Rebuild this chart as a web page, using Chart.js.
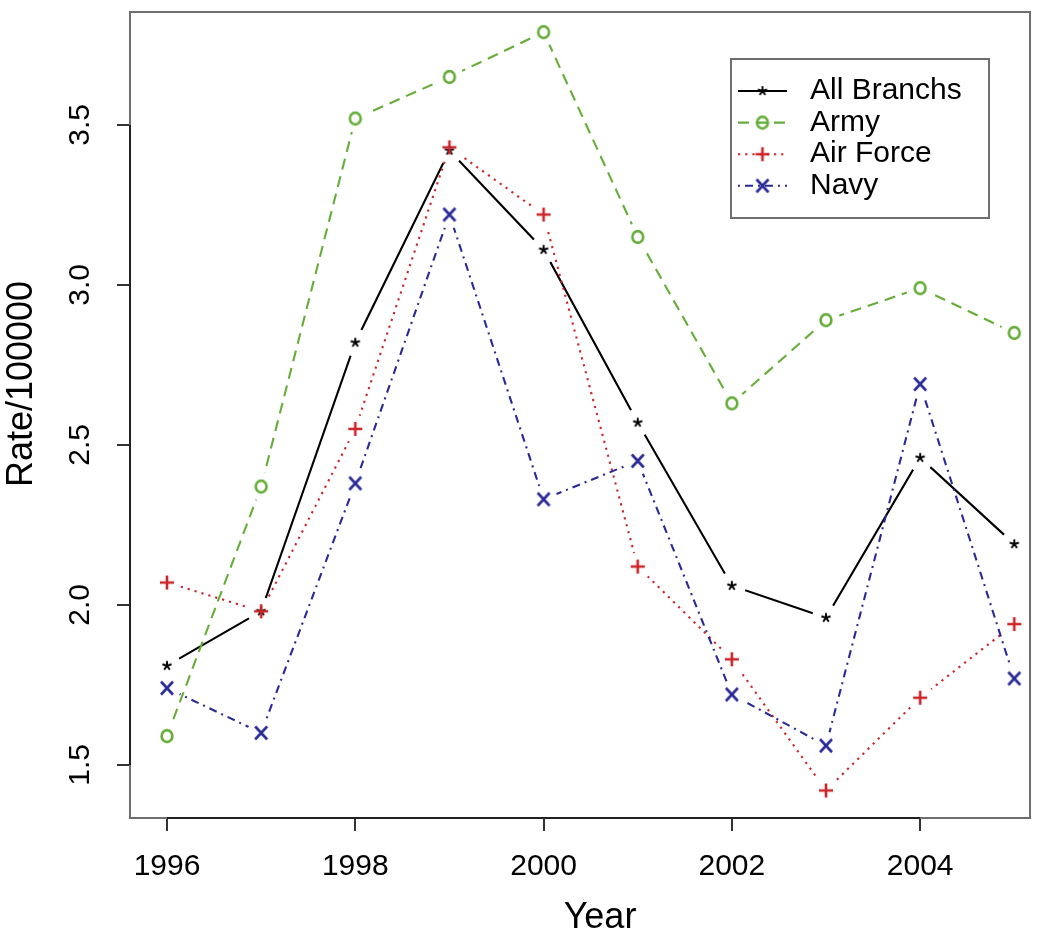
<!DOCTYPE html>
<html>
<head>
<meta charset="utf-8">
<script src="https://cdn.jsdelivr.net/npm/chart.js@4.4.1/dist/chart.umd.min.js"></script>
<style>
html,body{margin:0;padding:0;background:#fff;}
#c{display:block;}
</style>
</head>
<body>
<canvas id="c" width="1050" height="931"></canvas>
<script>
// ---- data ----
const years       = [1996, 1997, 1998, 1999, 2000, 2001, 2002, 2003, 2004, 2005];
const allBranchs  = [1.81, 1.98, 2.82, 3.42, 3.11, 2.57, 2.06, 1.96, 2.46, 2.19];
const army        = [1.59, 2.37, 3.52, 3.65, 3.79, 3.15, 2.63, 2.89, 2.99, 2.85];
const airForce    = [2.07, 1.98, 2.55, 3.43, 3.22, 2.12, 1.83, 1.42, 1.71, 1.94];
const navy        = [1.74, 1.60, 2.38, 3.22, 2.33, 2.45, 1.72, 1.56, 2.69, 1.77];
const seriesNames = ['All Branchs', 'Army', 'Air Force', 'Navy'];
const xTickValues = [1996, 1998, 2000, 2002, 2004];
const yTickValues = [1.5, 2.0, 2.5, 3.0, 3.5];
const xTitle = 'Year';
const yTitle = 'Rate/100000';

// ---- styles ----
const FONT = '"Liberation Sans", Arial, Helvetica, sans-serif';
Chart.defaults.font.family = FONT;
Chart.defaults.color = '#000';

function markerCanvas(kind, color) {
  const s = 26, c = document.createElement('canvas');
  c.width = s; c.height = s;
  const g = c.getContext('2d'), m = s / 2;
  g.strokeStyle = color; g.lineCap = 'butt';
  g.beginPath();
  if (kind === 'o') {
    g.lineWidth = 2.6; g.ellipse(m, m, 5.4, 5.9, 0, 0, Math.PI * 2);
  } else if (kind === '+') {
    g.lineWidth = 2.6;
    g.moveTo(m - 7, m); g.lineTo(m + 7, m);
    g.moveTo(m, m - 7); g.lineTo(m, m + 7);
  } else if (kind === 'x') {
    g.lineWidth = 2.6;
    g.moveTo(m - 6, m - 6.5); g.lineTo(m + 6, m + 6.5);
    g.moveTo(m + 6, m - 6.5); g.lineTo(m - 6, m + 6.5);
  } else {
    g.lineWidth = 1.9;
    for (let k = 0; k < 5; k++) {
      const a = -Math.PI / 2 + k * 2 * Math.PI / 5;
      g.moveTo(m, m); g.lineTo(m + 4.8 * Math.cos(a), m + 4.8 * Math.sin(a));
    }
  }
  g.stroke();
  return c;
}

const seriesValues = [allBranchs, army, airForce, navy];
const seriesStyle = [
  { color: '#000000', dash: [],            marker: '*', order: 3 },
  { color: '#66AD3A', dash: [11, 7],       marker: 'o', order: 2 },
  { color: '#CC2529', dash: [2.2, 5],      marker: '+', order: 1 },
  { color: '#2A2A96', dash: [2, 5, 8, 5],  marker: 'x', order: 0 }
];

const datasets = seriesNames.map((name, i) => ({
  label: name,
  data: years.map((yr, j) => ({ x: yr, y: seriesValues[i][j] })),
  borderColor: seriesStyle[i].color,
  backgroundColor: seriesStyle[i].color,
  borderWidth: 2.1,
  borderDash: seriesStyle[i].dash,
  pointStyle: markerCanvas(seriesStyle[i].marker, seriesStyle[i].color),
  pointRadius: 7,
  tension: 0,
  fill: false,
  order: seriesStyle[i].order
}));

// gaps around own points (R type="b")
const GAP = 14;
const gapPlugin = {
  id: 'gaps',
  beforeDatasetDraw(chart, args) {
    const ctx = chart.ctx;
    ctx.save();
    ctx.beginPath();
    ctx.rect(0, 0, chart.width, chart.height);
    args.meta.data.forEach(p => {
      ctx.moveTo(p.x + GAP, p.y);
      ctx.arc(p.x, p.y, GAP, 0, Math.PI * 2, true);
    });
    ctx.clip('evenodd');
  },
  afterDatasetDraw(chart, args) {
    chart.ctx.restore();
    args.meta.data.forEach(p => p.draw(chart.ctx, chart.chartArea));
  }
};

// plot box + axis lines
const framePlugin = {
  id: 'frame',
  beforeDatasetsDraw(chart) {
    const ctx = chart.ctx, a = chart.chartArea;
    const xs = chart.scales.x, ys = chart.scales.y;
    ctx.save();
    ctx.strokeStyle = '#6e6e6e'; ctx.lineWidth = 2;
    ctx.strokeRect(a.left, a.top, a.right - a.left, a.bottom - a.top);
    ctx.strokeStyle = '#222'; ctx.lineWidth = 2;
    ctx.beginPath();
    ctx.moveTo(xs.getPixelForValue(xTickValues[0]), a.bottom);
    ctx.lineTo(xs.getPixelForValue(xTickValues[xTickValues.length - 1]), a.bottom);
    ctx.moveTo(a.left, ys.getPixelForValue(yTickValues[0]));
    ctx.lineTo(a.left, ys.getPixelForValue(yTickValues[yTickValues.length - 1]));
    ctx.stroke();
    ctx.restore();
  }
};

// axis titles
const titlePlugin = {
  id: 'titles',
  afterDraw(chart) {
    const ctx = chart.ctx, a = chart.chartArea;
    ctx.save();
    ctx.fillStyle = '#000';
    ctx.font = '36px ' + FONT;
    ctx.textAlign = 'center';
    ctx.textBaseline = 'alphabetic';
    ctx.fillText(xTitle, (a.left + a.right) / 2 + 20, chart.height - 3);
    ctx.translate(32, (a.top + a.bottom) / 2 - 31);
    ctx.rotate(-Math.PI / 2);
    ctx.fillText(yTitle, 0, 0);
    ctx.restore();
  }
};

// R-style legend
const legendPlugin = {
  id: 'rlegend',
  afterDraw(chart) {
    const ctx = chart.ctx;
    const box = { left: 731, top: 59, width: 258, height: 159 };
    ctx.save();
    ctx.strokeStyle = '#6e6e6e'; ctx.lineWidth = 2;
    ctx.fillStyle = '#fff';
    ctx.fillRect(box.left, box.top, box.width, box.height);
    ctx.strokeRect(box.left, box.top, box.width, box.height);
    chart.data.datasets.forEach((ds, i) => {
      const y = 91 + i * 31.6;
      ctx.setLineDash(ds.borderDash);
      ctx.strokeStyle = ds.borderColor;
      ctx.lineWidth = ds.borderWidth;
      ctx.beginPath(); ctx.moveTo(738, y); ctx.lineTo(787, y); ctx.stroke();
      ctx.setLineDash([]);
      const img = ds.pointStyle;
      ctx.drawImage(img, 762.5 - img.width / 2, y - img.height / 2);
      ctx.fillStyle = '#000';
      ctx.font = '30px ' + FONT;
      ctx.textAlign = 'left';
      ctx.textBaseline = 'middle';
      ctx.fillText(ds.label, 810, y);
    });
    ctx.restore();
  }
};

new Chart(document.getElementById('c'), {
  type: 'line',
  data: { datasets },
  options: {
    responsive: false,
    animation: false,
    events: [],
    devicePixelRatio: 1,
    layout: { padding: { top: 12, right: 20, left: 0, bottom: 0 } },
    plugins: { legend: { display: false }, tooltip: { enabled: false }, title: { display: false } },
    scales: {
      x: {
        type: 'linear',
        min: 1995.607, max: 2005.167,
        grid: { display: true, drawOnChartArea: false, drawTicks: true, tickLength: 13, color: '#333', lineWidth: 2 },
        border: { display: false },
        ticks: { font: { size: 30 }, color: '#000', padding: 18, maxRotation: 0, autoSkip: false,
                 callback: v => String(v) },
        afterBuildTicks: s => { s.ticks = xTickValues.map(v => ({ value: v })); },
        afterFit: s => { s.height = 113; s.paddingLeft = 0; s.paddingRight = 0; }
      },
      y: {
        type: 'linear',
        min: 1.334, max: 3.853,
        grid: { display: true, drawOnChartArea: false, drawTicks: true, tickLength: 13, color: '#333', lineWidth: 2 },
        border: { display: false },
        ticks: { font: { size: 30 }, color: '#000', padding: 15, minRotation: 90, maxRotation: 90,
                 crossAlign: 'center', autoSkip: false, callback: v => Number(v).toFixed(1) },
        afterBuildTicks: s => { s.ticks = yTickValues.map(v => ({ value: v })); },
        afterFit: s => { s.width = 130; s.paddingTop = 0; s.paddingBottom = 0; }
      }
    }
  },
  plugins: [framePlugin, gapPlugin, titlePlugin, legendPlugin]
});
</script>
</body>
</html>
